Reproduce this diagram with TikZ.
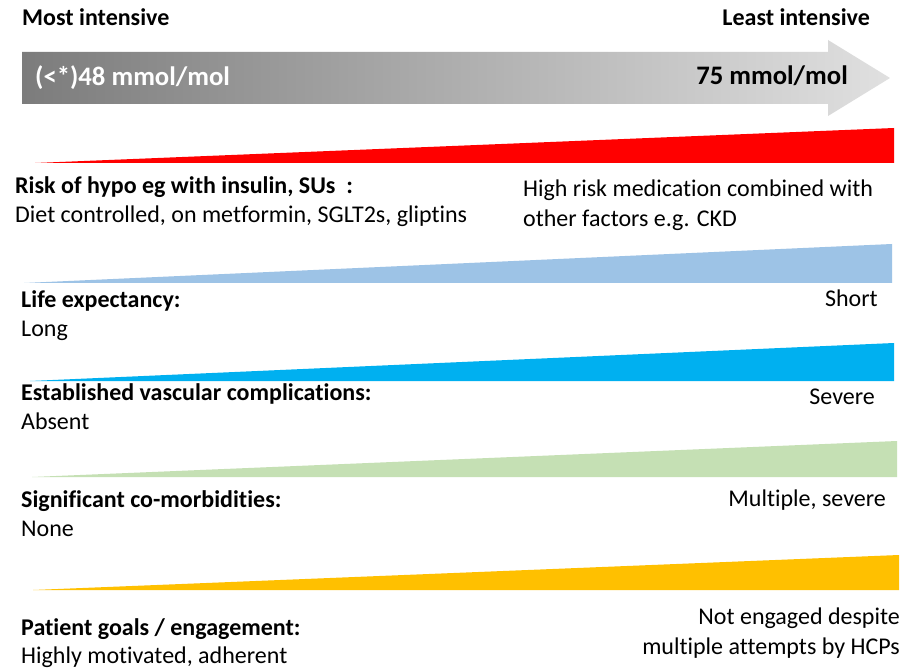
\documentclass[tikz,border=0pt]{standalone}
\usepackage{fontspec}
\setmainfont{Carlito}[Ligatures=NoCommon]
\begin{document}
\begin{tikzpicture}[x=1pt,y=-1pt,
  txt/.style={inner sep=0pt, yshift=-1.5pt, font=\fontsize{24}{29}\selectfont, text height=17pt, text depth=5pt},
  hdr/.style={txt, font=\fontsize{24}{29}\selectfont\bfseries},
  big/.style={inner sep=0pt, yshift=-1.5pt, font=\fontsize{26.7}{32}\selectfont\bfseries, text height=19pt, text depth=6pt}]
\definecolor{arrowL}{RGB}{124,124,124}
\definecolor{arrowR}{RGB}{224,224,224}
\definecolor{hypo}{RGB}{255,0,0}
\definecolor{life}{RGB}{157,195,230}
\definecolor{vasc}{RGB}{0,176,240}
\definecolor{comorb}{RGB}{197,224,180}
\definecolor{goals}{RGB}{255,192,0}
\useasboundingbox (0,0) rectangle (924,668);
\fill[white] (0,0) rectangle (924,668);

% intensity scale
\node[hdr, anchor=west] (most) at (22,18) {Most intensive};
\node[hdr, anchor=east] (least) at (870,18) {Least intensive};
\shade[left color=arrowL, right color=arrowR]
  (22,52) -- (828,52) -- (828,40) -- (890,78) -- (828,116) -- (828,104) -- (22,104) -- cycle;
\node[big, anchor=west, text=white] (low) at (35,78) {(<*)48 mmol/mol};
\node[big, anchor=east] (high) at (848,77) {75 mmol/mol};

% wedges
\fill[hypo]   (35,163) -- (894,128) -- (894,163) -- cycle;
\fill[life]   (24,283) -- (892,244) -- (892,283) -- cycle;
\fill[vasc]   (30,381) -- (894,343) -- (894,381) -- cycle;
\fill[comorb] (32,477) -- (897,441) -- (897,477) -- cycle;
\fill[goals]  (33,590) -- (899,555) -- (899,590) -- cycle;

% hypoglycaemia risk
\node[hdr, anchor=west] (hypoH) at (15,186) {Risk of hypo eg with insulin, SUs~~:};
\node[txt, anchor=west] (hypoL) at (15,215) {Diet controlled, on metformin, SGLT2s, gliptins};
\node[txt, anchor=west] (hypoR1) at (523,189) {High risk medication combined with};
\node[txt, anchor=west] (hypoR2) at (523,219) {other factors e.g. CKD};

% life expectancy
\node[hdr, anchor=west] (lifeH) at (21,300) {Life expectancy:};
\node[txt, anchor=west] (lifeL) at (21,329) {Long};
\node[txt, anchor=east] (lifeR) at (878,299) {Short};

% vascular complications
\node[hdr, anchor=west] (vascH) at (21,393) {Established vascular complications:};
\node[txt, anchor=west] (vascL) at (21,422) {Absent};
\node[txt, anchor=east] (vascR) at (875,397) {Severe};

% co-morbidities
\node[hdr, anchor=west] (comH) at (21,500) {Significant co-morbidities:};
\node[txt, anchor=west] (comL) at (21,529) {None};
\node[txt, anchor=east] (comR) at (886,499) {Multiple, severe};

% patient goals
\node[hdr, anchor=west] (goalH) at (21,628) {Patient goals / engagement:};
\node[txt, anchor=west] (goalL) at (21,656) {Highly motivated, adherent};
\node[txt, anchor=east] (goalR1) at (900,617) {Not engaged despite};
\node[txt, anchor=east] (goalR2) at (900,647) {multiple attempts by HCPs};
\end{tikzpicture}
\end{document}
